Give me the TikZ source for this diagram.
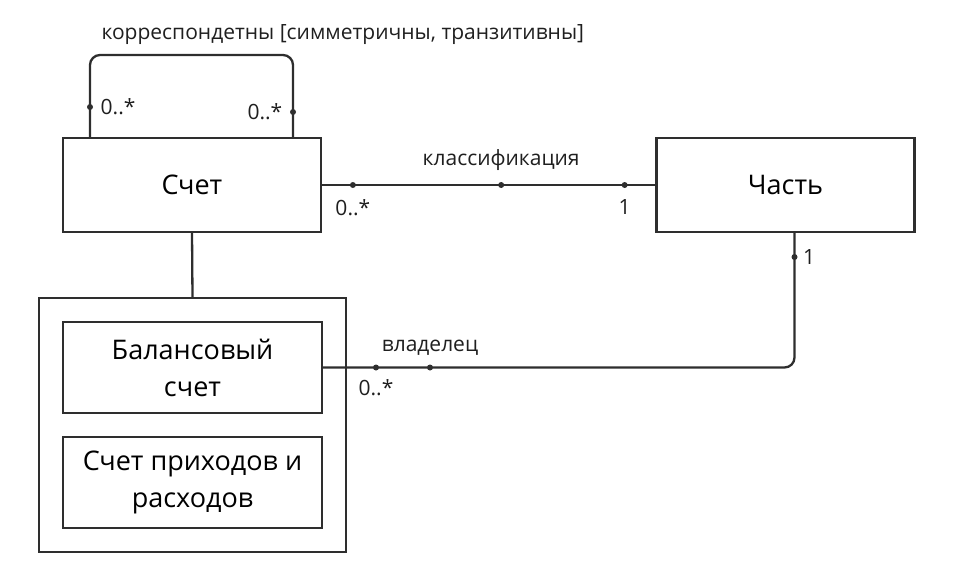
\documentclass[tikz,border=0pt]{standalone}
\usepackage{fontspec}
\setmainfont{Open Sans}
\usepackage{tikz}
\usetikzlibrary{positioning, fit, calc}
\definecolor{linie}{HTML}{2E2E2E}
\tikzstyle{klasse} = [rectangle, draw=linie, line width=2.6pt, outer sep=0pt, minimum width=258pt, minimum height=94pt, text centered, font=\fontsize{27}{37}\selectfont]
\tikzstyle{unter}  = [klasse, minimum width=259pt, minimum height=91pt, align=center]
\tikzstyle{gruppe} = [rectangle, draw=linie, line width=2.6pt, outer sep=0pt, inner sep=24pt]
\tikzstyle{assoc}  = [draw=linie, line width=2.3pt]
\tikzstyle{punkt}  = [circle, fill=linie, inner sep=0pt, minimum size=6pt]
\tikzstyle{rolle}  = [font=\fontsize{21}{25}\selectfont, text=black!88]

\begin{document}
\begin{tikzpicture}[x=1pt, y=1pt]
\useasboundingbox (0,0) rectangle (957,-587);
\node (schet) [klasse] at (192,-185) {Счет};
\node (chast) [klasse] at (785.5,-185) {Часть};
\node (balans) [unter] at (192.5,-367.5) {Балансовый\\счет};
\node (dohod) [unter, below=24pt of balans] {Счет приходов и\\расходов};
\node (gruppa) [gruppe, fit=(balans)(dohod)] {};

% recursive association
\draw [assoc, rounded corners=10pt] ([xshift=27pt]schet.north west) -- ++(0,83) -| ([xshift=-28pt]schet.north east);
\node (pl) [punkt] at ([xshift=27pt,yshift=31pt]schet.north west) {};
\node (pr) [punkt] at ([xshift=-28pt,yshift=26pt]schet.north east) {};
\node [rolle, right=4pt of pl] {0..*};
\node [rolle, left=4pt of pr] {0..*};
\node (korr) [rolle, anchor=west] at (98,-35) {корреспондетны [симметричны, транзитивны]};

% classification
\draw [assoc] (schet.east) -- (chast.west)
  node[punkt, pos=0.095] (k1) {}
  node[punkt, pos=0.537] (k2) {}
  node[punkt, pos=0.905] (k3) {};
\node [rolle, above=7pt of k2] {классификация};
\node [rolle, below=7pt of k1] {0..*};
\node [rolle, below=7pt of k3] {1};

% generalisation
\draw [assoc] (schet.south) -- (gruppa.north);

% owner
\draw [assoc, rounded corners=10pt] (balans.east) -| ([xshift=9pt]chast.south);
\node (v1) [punkt] at ([xshift=54pt]balans.east) {};
\node (v2) [punkt] at ([xshift=108pt]balans.east) {};
\node (v3) [punkt] at ([xshift=9pt,yshift=-25pt]chast.south) {};
\node [rolle, above=5pt of v2] {владелец};
\node [rolle, below=5pt of v1] {0..*};
\node [rolle, right=2pt of v3] {1};
\end{tikzpicture}
\end{document}
